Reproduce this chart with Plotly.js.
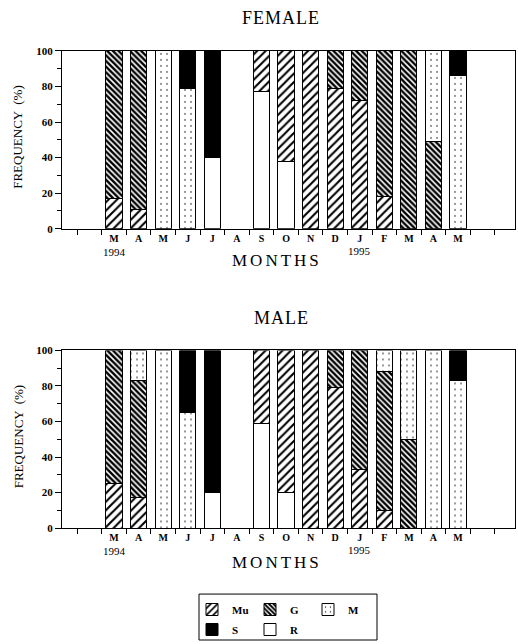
<!DOCTYPE html>
<html><head><meta charset="utf-8">
<script src="https://cdn.plot.ly/plotly-3.0.1.min.js"></script>
<style>body{margin:0;background:#fff}</style>
</head><body><div id="chart" style="width:518px;height:644px"></div>
<script>
// ---- data ----
const months = ['M','A','M','J','J','A','S','O','N','D','J','F','M','A','M'];
const yearLabels = ['1994','1995'];
const yearIndex = [0, 10];
const stages = ['R','Mu','G','M','S'];

const femaleR  = [0, 0, 0, 0, 40, 0, 77, 38, 0, 0, 0, 0, 0, 0, 0];
const femaleMu = [17, 11, 0, 0, 0, 0, 23, 62, 100, 79, 72, 18, 0, 0, 0];
const femaleG  = [83, 89, 0, 0, 0, 0, 0, 0, 0, 21, 28, 82, 100, 49, 0];
const femaleM  = [0, 0, 100, 79, 0, 0, 0, 0, 0, 0, 0, 0, 0, 51, 86];
const femaleS  = [0, 0, 0, 21, 60, 0, 0, 0, 0, 0, 0, 0, 0, 0, 14];

const maleR  = [0, 0, 0, 0, 20, 0, 59, 20, 0, 0, 0, 0, 0, 0, 0];
const maleMu = [25, 17, 0, 0, 0, 0, 41, 80, 100, 79, 33, 10, 0, 0, 0];
const maleG  = [75, 66, 0, 0, 0, 0, 0, 0, 0, 21, 67, 78, 50, 0, 0];
const maleM  = [0, 17, 100, 65, 0, 0, 0, 0, 0, 0, 0, 12, 50, 100, 83];
const maleS  = [0, 0, 0, 35, 80, 0, 0, 0, 0, 0, 0, 0, 0, 0, 17];

const yTicks = [0, 20, 40, 60, 80, 100];

// ---- layout helpers ----
const W = 518, H = 644;
const px = p => p / W, py = p => 1 - p / H;
const idx = months.map((_, i) => i);
const serif = 'Liberation Serif, Times New Roman, serif';

const markers = {
  R:  {color: '#ffffff'},
  Mu: {color: '#ffffff', pattern: {shape: '/', fgcolor: '#000', bgcolor: '#fff', size: 6, solidity: 0.35}},
  G:  {color: '#000000', pattern: {shape: '\\', fgcolor: '#000', bgcolor: '#fff', size: 4, solidity: 0.6}},
  M:  {color: '#ffffff', pattern: {shape: '.', fgcolor: '#000', bgcolor: '#fff', size: 6, solidity: 0.05}},
  S:  {color: '#000000'}
};
const legendOf = {Mu: 'legend', G: 'legend', M: 'legend', S: 'legend2', R: 'legend2'};
const rankOf = {Mu: 1, G: 2, M: 3, S: 4, R: 5};

const female = {R: femaleR, Mu: femaleMu, G: femaleG, M: femaleM, S: femaleS};
const male = {R: maleR, Mu: maleMu, G: maleG, M: maleM, S: maleS};

const traces = [];
[[female, 'x', 'y', true], [male, 'x2', 'y2', false]].forEach(([set, xa, ya, show]) => {
  stages.forEach(st => {
    traces.push({
      type: 'bar', x: idx, y: set[st].map(v => (v === 0 ? null : v)), name: st, xaxis: xa, yaxis: ya,
      width: 0.66, showlegend: show, legend: legendOf[st], legendrank: rankOf[st],
      marker: Object.assign({}, markers[st], {line: {color: '#000', width: 1}}),
      hoverinfo: 'skip'
    });
  });
});

function xax(anchor) {
  return {
    domain: [px(62), px(515)], anchor: anchor, range: [-2.12, 16.32],
    tickmode: 'array', tickvals: idx, ticktext: months, ticks: '', showgrid: false, zeroline: false,
    showline: true, linecolor: '#000', linewidth: 1, mirror: true,
    minor: {tick0: 0.5, dtick: 1, ticks: 'outside', ticklen: 5, tickcolor: '#000', showgrid: false},
    tickfont: {family: serif, size: 10, color: '#000', weight: 'bold'}
  };
}
function yax(anchor, dom) {
  return {
    domain: dom, anchor: anchor, range: [0, 100],
    tickmode: 'array', tickvals: yTicks, ticks: 'outside', ticklen: 6, tickcolor: '#000',
    showgrid: false, zeroline: false, showline: true, linecolor: '#000', linewidth: 1, mirror: true,
    minor: {dtick: 10, ticks: 'outside', ticklen: 4, tickcolor: '#000', showgrid: false},
    tickfont: {family: serif, size: 11, color: '#000', weight: 'bold'}
  };
}

const ann = [];
const base = {showarrow: false, xanchor: 'center', yanchor: 'middle', yref: 'paper'};
[0, 300].forEach((off, k) => {
  ann.push(Object.assign({}, base, {text: k === 0 ? 'FEMALE' : 'MALE', x: px(281), y: py(18 + off), xref: 'paper',
    font: {family: serif, size: 18, color: '#000'}}));
  ann.push(Object.assign({}, base, {text: 'MONTHS', x: px(277), y: py(261 + off + 2 * k), xref: 'paper',
    font: {family: serif, size: 17, color: '#000'}}));
  ann.push(Object.assign({}, base, {text: 'FREQUENCY  (%)', x: px(18), y: py(137 + off), xref: 'paper', textangle: -90,
    font: {family: serif, size: 13, color: '#000'}}));
  yearLabels.forEach((yl, j) => {
    ann.push(Object.assign({}, base, {text: yl, x: yearIndex[j], y: py(252 + off - j), xref: k === 0 ? 'x' : 'x2',
      font: {family: serif, size: 11, color: '#000'}}));
  });
});

const legFont = {family: serif, size: 11, color: '#000', weight: 'bold'};
const layout = {
  width: W, height: H, margin: {l: 0, r: 0, t: 0, b: 0},
  paper_bgcolor: '#fff', plot_bgcolor: '#fff', barmode: 'stack', bargap: 0.3,
  xaxis: xax('y'), yaxis: yax('x', [py(229), py(51)]),
  xaxis2: xax('y2'), yaxis2: yax('x2', [py(529), py(351)]),
  annotations: ann,
  legend: {orientation: 'h', x: px(192), y: py(595), xanchor: 'left', yanchor: 'top',
    traceorder: 'normal', font: legFont, bgcolor: 'rgba(0,0,0,0)', entrywidth: 13, itemwidth: 30},
  legend2: {orientation: 'h', x: px(192), y: py(616), xanchor: 'left', yanchor: 'top',
    traceorder: 'normal', font: legFont, bgcolor: 'rgba(0,0,0,0)', entrywidth: 13, itemwidth: 30},
  shapes: [{type: 'rect', xref: 'paper', yref: 'paper', x0: px(199), x1: px(377), y0: py(595), y1: py(641),
    line: {color: '#000', width: 1}}],
  showlegend: true
};

Plotly.newPlot('chart', traces, layout, {displayModeBar: false, staticPlot: true}).then(() => {
  document.querySelectorAll('.annotation-text').forEach(t => {
    if (t.textContent === 'MONTHS') t.style.letterSpacing = '3px';
    if (t.textContent === 'FEMALE' || t.textContent === 'MALE') t.style.letterSpacing = '1px';
  });
});
</script></body></html>
